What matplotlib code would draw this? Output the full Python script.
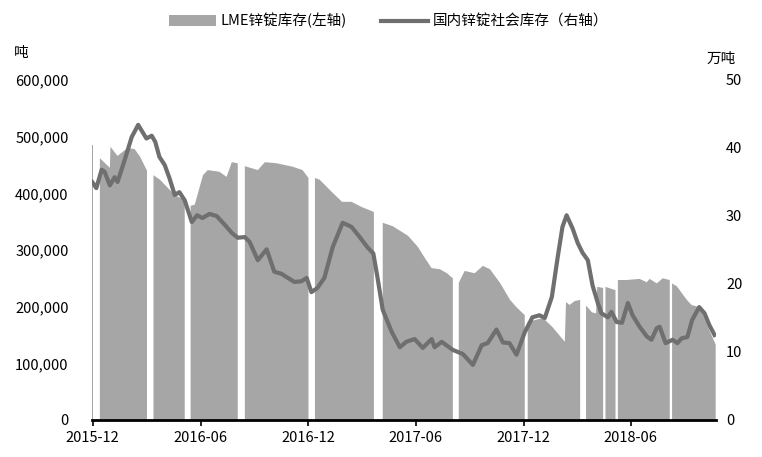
import matplotlib
matplotlib.use("Agg")
import matplotlib.pyplot as plt
import matplotlib.dates as mdates
from matplotlib.ticker import FuncFormatter, FixedLocator
import numpy as np
import pandas as pd

plt.rcParams['font.family'] = ['Noto Sans CJK SC', 'DejaVu Sans']

# LME zinc stocks (tonnes), nan marks the breaks in the series
lme_dates = [
    "2015-11-30", "2015-12-01", "2015-12-02",
    "2015-12-13", "2015-12-30", "2015-12-31", "2016-01-12", "2016-01-29", "2016-02-10",
    "2016-02-19", "2016-03-02", "2016-03-03",
    "2016-03-13", "2016-03-24", "2016-04-05", "2016-04-18", "2016-05-05", "2016-05-06",
    "2016-05-15", "2016-05-22", "2016-06-05", "2016-06-13", "2016-07-03", "2016-07-15",
    "2016-07-24", "2016-08-03", "2016-08-04",
    "2016-08-15", "2016-09-06", "2016-09-18", "2016-10-08", "2016-11-04", "2016-11-21",
    "2016-12-01", "2016-12-02",
    "2016-12-12", "2016-12-20", "2017-01-10", "2017-01-27", "2017-02-12", "2017-03-01",
    "2017-03-22", "2017-03-23",
    "2017-04-06", "2017-04-23", "2017-05-19", "2017-06-05", "2017-06-17", "2017-06-28",
    "2017-07-12", "2017-07-24", "2017-08-03", "2017-08-04",
    "2017-08-13", "2017-08-23", "2017-09-09", "2017-09-23", "2017-10-05", "2017-10-22",
    "2017-11-08", "2017-11-19", "2017-12-03", "2017-12-04",
    "2017-12-08", "2018-01-03", "2018-01-19", "2018-02-09", "2018-02-11", "2018-02-17",
    "2018-02-26", "2018-03-07", "2018-03-08",
    "2018-03-17", "2018-03-27", "2018-04-03", "2018-04-05", "2018-04-15", "2018-04-16",
    "2018-04-19", "2018-05-06", "2018-05-07",
    "2018-05-10", "2018-05-25", "2018-06-16", "2018-06-28", "2018-07-03", "2018-07-15",
    "2018-07-25", "2018-08-06", "2018-08-07",
    "2018-08-10", "2018-08-18", "2018-09-04", "2018-09-12", "2018-09-26", "2018-10-10",
    "2018-10-23",
]
lme_stock = [
    485000, 485000, np.nan,
    462000, 445000, 482000, 466000, 480000, 478000,
    465000, 440000, np.nan,
    432000, 424000, 411000, 397000, 388000, np.nan,
    378000, 380000, 432000, 441000, 438000, 429000,
    455000, 453000, np.nan,
    448000, 441000, 455000, 453000, 447000, 441000,
    427000, np.nan,
    427000, 424000, 402000, 385000, 385000, 376000,
    367000, np.nan,
    348000, 342000, 325000, 305000, 285000, 268000,
    266000, 259000, 250000, np.nan,
    242000, 263000, 259000, 272000, 266000, 242000,
    212000, 199000, 185000, np.nan,
    173000, 180000, 164000, 138000, 208000, 203000,
    210000, 212000, np.nan,
    202000, 190000, 188000, 235000, 233000, np.nan,
    235000, 229000, np.nan,
    247000, 247000, 249000, 243000, 249000, 241000,
    250000, 247000, np.nan,
    241000, 236000, 212000, 203000, 199000, 164000,
    133000,
]

# domestic social zinc stocks (10k tonnes)
cn_dates = [
    "2015-11-30", "2015-12-07", "2015-12-16", "2015-12-21", "2015-12-30", "2016-01-07",
    "2016-01-12", "2016-01-24", "2016-02-05", "2016-02-16", "2016-03-01", "2016-03-10",
    "2016-03-16", "2016-03-23", "2016-04-01", "2016-04-09", "2016-04-18", "2016-04-26",
    "2016-05-05", "2016-05-17", "2016-05-26", "2016-06-04", "2016-06-16", "2016-06-28",
    "2016-07-12", "2016-07-24", "2016-08-03", "2016-08-15", "2016-08-23", "2016-09-06",
    "2016-09-21", "2016-10-04", "2016-10-16", "2016-11-07", "2016-11-19", "2016-11-28",
    "2016-12-06", "2016-12-16", "2016-12-28", "2017-01-11", "2017-01-28", "2017-02-12",
    "2017-02-26", "2017-03-11", "2017-03-21", "2017-03-28", "2017-04-06", "2017-04-21",
    "2017-05-05", "2017-05-16", "2017-05-30", "2017-06-13", "2017-06-28", "2017-07-03",
    "2017-07-15", "2017-08-03", "2017-08-20", "2017-09-06", "2017-09-21", "2017-10-01",
    "2017-10-16", "2017-10-27", "2017-11-07", "2017-11-19", "2017-12-03", "2017-12-16",
    "2017-12-28", "2018-01-06", "2018-01-18", "2018-01-28", "2018-02-05", "2018-02-12",
    "2018-02-22", "2018-03-03", "2018-03-11", "2018-03-20", "2018-03-28", "2018-04-06",
    "2018-04-12", "2018-04-23", "2018-04-29", "2018-05-08", "2018-05-17", "2018-05-27",
    "2018-06-04", "2018-06-16", "2018-06-28", "2018-07-06", "2018-07-15", "2018-07-20",
    "2018-07-30", "2018-08-11", "2018-08-19", "2018-08-26", "2018-09-05", "2018-09-13",
    "2018-09-25", "2018-10-04", "2018-10-12", "2018-10-21",
]
cn_stock = [
    35.0, 34.1, 36.8, 36.5, 34.5, 35.7,
    35.0, 38.2, 41.6, 43.4, 41.4, 41.8,
    40.9, 38.7, 37.5, 35.6, 33.1, 33.5,
    32.3, 29.1, 30.1, 29.7, 30.3, 30.0,
    28.7, 27.5, 26.8, 26.9, 26.2, 23.5,
    25.1, 21.8, 21.5, 20.3, 20.4, 20.9,
    18.8, 19.4, 20.9, 25.4, 29.0, 28.4,
    26.9, 25.4, 24.5, 21.0, 16.2, 13.0,
    10.7, 11.5, 11.9, 10.6, 11.9, 10.7,
    11.5, 10.3, 9.7, 8.1, 11.0, 11.3,
    13.3, 11.4, 11.3, 9.6, 12.9, 15.1,
    15.4, 15.0, 18.1, 24.0, 28.4, 30.1,
    28.2, 26.0, 24.6, 23.5, 19.8, 17.2,
    15.7, 15.1, 15.9, 14.4, 14.3, 17.2,
    15.4, 13.7, 12.3, 11.8, 13.5, 13.7,
    11.3, 11.8, 11.3, 12.0, 12.2, 14.7,
    16.6, 15.7, 14.0, 12.5,
]

tick_dates = ["2015-12-01", "2016-06-01", "2016-12-01", "2017-06-01", "2017-12-01", "2018-06-01"]
left_ticks = [0, 100000, 200000, 300000, 400000, 500000, 600000]
right_ticks = [0, 10, 20, 30, 40, 50]

area_color = "#a6a6a6"
line_color = "#6f6f6f"

fig = plt.figure(figsize=(7.62, 4.57), dpi=100)
ax = fig.add_axes([0.121, 0.081, 0.819, 0.744])
ax2 = ax.twinx()

x_lme = pd.to_datetime(lme_dates)
x_cn = pd.to_datetime(cn_dates)

ax.fill_between(x_lme, 0, np.array(lme_stock, dtype=float), color=area_color,
                linewidth=0, label="LME锌锭库存(左轴)")
ax2.plot(x_cn, cn_stock, color=line_color, linewidth=3.0,
         label="国内锌锭社会库存（右轴）", solid_joinstyle="round")

ax.set_xlim(pd.Timestamp("2015-11-30"), pd.Timestamp("2018-10-24"))
ax.set_ylim(0, 600000)
ax2.set_ylim(0, 50)

ax.xaxis.set_major_locator(FixedLocator(mdates.date2num(pd.to_datetime(tick_dates))))
ax.xaxis.set_major_formatter(mdates.DateFormatter("%Y-%m"))
ax.set_yticks(left_ticks)
ax.yaxis.set_major_formatter(FuncFormatter(lambda v, p: f"{v:,.0f}"))
ax2.set_yticks(right_ticks)

for a in (ax, ax2):
    for s in ("top", "left", "right"):
        a.spines[s].set_visible(False)
ax2.spines["bottom"].set_visible(False)
ax.spines["bottom"].set_color("black")
ax.spines["bottom"].set_linewidth(2.0)

ax.tick_params(axis="x", length=4, width=1.2, color="black", labelsize=10.5, pad=4)
ax.tick_params(axis="y", length=0, labelsize=10.5, pad=17)
ax2.tick_params(axis="y", length=0, labelsize=10.5, pad=7)

fig.text(0.018, 0.885, "吨", fontsize=10.5, ha="left", va="center")
fig.text(0.966, 0.872, "万吨", fontsize=10.5, ha="right", va="center")

h1, l1 = ax.get_legend_handles_labels()
h2, l2 = ax2.get_legend_handles_labels()
fig.legend(h1 + h2, l1 + l2, loc="upper center", bbox_to_anchor=(0.51, 1.0),
           ncol=2, frameon=False, fontsize=10.5, handlelength=3.2,
           columnspacing=2.4, handletextpad=0.3)

fig.savefig("out.png", dpi=100)
